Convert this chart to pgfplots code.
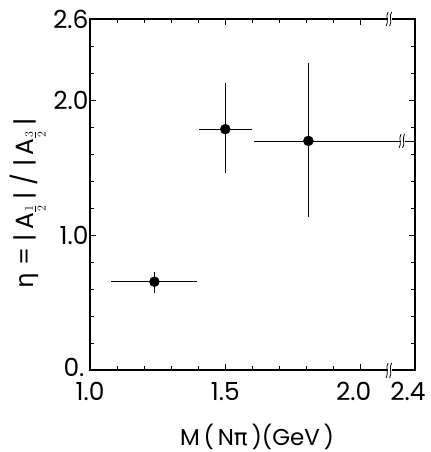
\documentclass[border=0pt]{standalone}
\usepackage{pgfplots}
\pgfplotsset{compat=1.18}
\usepackage{fontspec}
\setmainfont{Poppins}
\newfontfamily\grk{DejaVu Sans}
\newcommand{\tickf}{\fontsize{25}{27}\selectfont}
\newcommand{\labf}{\fontsize{23}{25}\selectfont}
\begin{document}
\begin{tikzpicture}
\begin{axis}[
  at={(0,0)}, anchor=south west,
  scale only axis, width=325bp, height=351bp,
  xmin=1.0, xmax=2.201, ymin=0, ymax=2.6,
  xtick={1.0,1.5,2.0,2.201}, xticklabels={1.0,1.5,\hspace*{-14bp}2.0,\hspace*{-14bp}2.4},
  minor xtick={1.1,1.2,1.3,1.4,1.6,1.7,1.8,1.9},
  ytick={0,1,2,2.6}, yticklabels={\raisebox{5bp}{0.\hspace{4bp}},1.0,2.0,2.6},
  minor ytick={0.2,0.4,0.6,0.8,1.2,1.4,1.6,1.8,2.2,2.4},
  tick align=inside,
  major tick length=6bp, minor tick length=4bp,
  axis line style={line width=1.1pt},
  every tick/.style={line width=0.8pt, black},
  ticklabel style={font=\tickf},
  xticklabel style={yshift=-9bp},
  yticklabel style={xshift=2bp},
  clip=false,
  xlabel={M\,(\,N{\grk π}\,)(GeV\,)},
  xlabel style={font=\labf, at={(axis description cs:0.514,-0.19)}, anchor=center},
  ylabel={{\grk η}\;=\;|\,A$_{\frac{1}{2}}$\,|\;/\;|\,A$_{\frac{3}{2}}$\,|},
  ylabel style={font=\tickf, at={(axis description cs:-0.191,0.474)}, anchor=center, rotate=0},
]
\addplot[only marks, mark=*, mark size=5bp, black,
  error bars/.cd, x dir=both, x explicit, y dir=both, y explicit,
  error bar style={line width=0.8pt}, error mark=none]
  table[x=x, y=y, x error plus=xp, x error minus=xm, y error plus=yp, y error minus=ym] {
x     y     xp    xm    yp    ym
1.238 0.654 0.156 0.160 0.070 0.080
1.500 1.784 0.100 0.096 0.343 0.328
1.807 1.697 0.394 0.201 0.578 0.567
};
% axis / bar breaks
\fill[white, shift={(axis cs:2.109,0)}] (-2bp,-4bp) rectangle (1.5bp,4bp);
\draw[line width=0.8pt, shift={(axis cs:2.109,0)}] (-4bp,-8bp) .. controls (-1bp,-3bp) and (-5bp,3bp) .. (-2bp,7bp);
\draw[line width=0.8pt, shift={(axis cs:2.109,0)}] (-0.5bp,-8bp) .. controls (2.5bp,-3bp) and (-1.5bp,3bp) .. (1.5bp,7bp);
\fill[white, shift={(axis cs:2.109,2.6)}] (-2bp,-4bp) rectangle (1.5bp,4bp);
\draw[line width=0.8pt, shift={(axis cs:2.109,2.6)}] (-4bp,-7bp) .. controls (-1bp,-3bp) and (-5bp,3bp) .. (-2bp,7bp);
\draw[line width=0.8pt, shift={(axis cs:2.109,2.6)}] (-0.5bp,-7bp) .. controls (2.5bp,-3bp) and (-1.5bp,3bp) .. (1.5bp,7bp);
\fill[white, shift={(axis cs:2.157,1.697)}] (-2bp,-4bp) rectangle (1.5bp,4bp);
\draw[line width=0.8pt, shift={(axis cs:2.157,1.697)}] (-4bp,-7bp) .. controls (-1bp,-3bp) and (-5bp,3bp) .. (-2bp,7bp);
\draw[line width=0.8pt, shift={(axis cs:2.157,1.697)}] (-0.5bp,-7bp) .. controls (2.5bp,-3bp) and (-1.5bp,3bp) .. (1.5bp,7bp);
\end{axis}
\pgfresetboundingbox
\path (-90bp,-82bp) rectangle (341bp,370bp);
\end{tikzpicture}
\end{document}
